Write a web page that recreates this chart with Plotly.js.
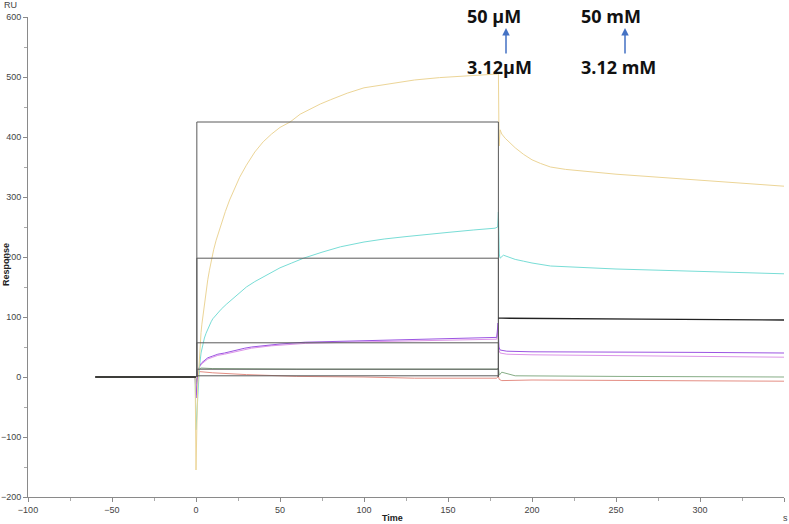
<!DOCTYPE html>
<html>
<head>
<meta charset="utf-8">
<script src="https://cdn.plot.ly/plotly-3.0.1.min.js"></script>
<style>html,body{margin:0;padding:0;background:#fff;}#chart{width:789px;height:524px;}</style>
</head>
<body>
<div id="chart"></div>
<script>
// ---- Data ----
const yellowT = [-60, -0.5, 0, 0.5, 1, 1.4, 1.9, 2.4, 3, 3.5, 4.4, 5.4, 6.2, 7, 8, 9.3, 10.5, 12, 13.5, 15, 17.5, 20, 23, 26, 30, 35, 40, 45, 50, 56, 62, 68, 74, 80, 90, 100, 115, 130, 145, 160, 170, 179.5, 180, 180.4, 181, 182, 184, 187, 190, 195, 200, 205, 211, 220, 230, 250, 275, 300, 325, 350];
const yellowV = [0, 0, -155, -60, -15, 0, 30, 57, 74, 88, 108, 128, 146, 162, 178, 198, 212, 228, 242, 255, 276, 295, 315, 333, 353, 375, 392, 405, 416, 425, 438, 447, 455, 462, 473, 482, 489, 495, 499, 502, 504, 505, 508, 385, 412, 405, 398, 390, 382, 371, 362, 356, 350, 346, 343, 338, 333, 328, 323, 318];

const cyanT = [-60, -0.5, 0, 0.5, 1, 1.5, 2, 3, 4.2, 5, 6, 7, 8, 9, 10, 12.5, 15, 18, 21, 25, 30, 35, 40, 45, 50, 57, 64, 75, 86, 100, 112, 125, 138, 150, 165, 178, 179.6, 180, 180.5, 181, 183, 186, 190, 195, 200, 211, 225, 250, 275, 300, 325, 350];
const cyanV = [0, 0, -88, -60, -30, -5, 15, 40, 57, 65, 73, 80, 86, 92, 97, 106, 113, 121, 128, 138, 150, 159, 167, 175, 182, 190, 198, 208, 217, 225, 230, 234, 238, 241, 245, 248, 250, 275, 205, 198, 203, 200, 196, 193, 190, 185, 183, 180, 178, 176, 174, 172];

const purpleT = [-60, -0.5, 0, 0.5, 1, 1.5, 2.4, 3.5, 5, 7, 10, 13, 17, 21, 25, 29, 33, 40, 50, 65, 90, 120, 150, 179, 179.8, 180.3, 181, 185, 200, 250, 300, 350];
const purpleV = [0, 0, -35, -10, 5, 13, 20, 24, 28, 32, 35, 38, 40, 43, 45, 48, 50, 52, 55, 58, 60, 62, 64, 66, 90, 50, 45, 43, 42, 42, 41, 40];

const pinkT = [-60, -0.5, 0, 0.5, 1, 1.5, 2.4, 3.5, 5, 7, 10, 13, 17, 25, 33, 45, 65, 90, 120, 150, 179, 179.8, 180.3, 181, 185, 200, 250, 300, 350];
const pinkV = [0, 0, -30, -8, 4, 11, 18, 22, 26, 30, 33, 36, 38, 43, 48, 52, 56, 58, 60, 62, 63, 80, 45, 40, 38, 37, 36, 35, 33];

const greenT = [-60, -0.5, 0, 0.5, 1.5, 3, 10, 60, 120, 179, 180, 180.5, 182, 190, 250, 300, 350];
const greenV = [0, 0, -12, -3, 12, 15, 14, 13, 13, 13, 15, 3, 8, 2, 1, 1, 0];

const redT = [-60, -0.5, 0, 0.5, 2, 10, 30, 60, 100, 130, 179, 180, 180.5, 182, 200, 250, 300, 350];
const redV = [0, 0, -8, -2, 9, 7, 4, 1, 0, -2, -2, 1, -4, -6, -5, -6, -6, -7];

// fitted steady-state boxes
const fitLevels = [425, 198, 57, 13, 2];
const fitStart = 0.5;
const fitEnd = 180;

// baseline and dissociation fit line
const baselineT = [-60, 0];
const baselineV = [0, 0];
const dissT = [180, 182, 265, 350];
const dissV = [98, 98, 96.5, 95];

// annotation labels
const labelsLeft = ["50 µM", "3.12µM"];
const labelsRight = ["50 mM", "3.12 mM"];

// ---- Traces ----
const traces = [];
function curve(t, v, color) {
  traces.push({x: t, y: v, type: 'scatter', mode: 'lines',
    line: {color: color, width: 1}, hoverinfo: 'skip', showlegend: false});
}
curve(redT, redV, '#E48E84');
curve(greenT, greenV, '#86AD86');
curve(pinkT, pinkV, '#DD95E8');
curve(purpleT, purpleV, '#9C55E2');
curve(cyanT, cyanV, '#78DDD6');
curve(yellowT, yellowV, '#ECD597');

fitLevels.forEach(function (L) {
  traces.push({x: [fitStart, fitStart, fitEnd, fitEnd], y: [0, L, L, 0],
    type: 'scatter', mode: 'lines', line: {color: '#5a5a5a', width: 1},
    hoverinfo: 'skip', showlegend: false});
});
traces.push({x: baselineT, y: baselineV, type: 'scatter', mode: 'lines',
  line: {color: '#111', width: 1.3}, hoverinfo: 'skip', showlegend: false});
traces.push({x: dissT, y: dissV, type: 'scatter', mode: 'lines',
  line: {color: '#222', width: 1.3}, hoverinfo: 'skip', showlegend: false});

// ---- Layout ----
const smallFont = {family: 'Liberation Sans, Arial, sans-serif', size: 9, color: '#444'};
const axisCommon = {
  showgrid: false, zeroline: false, showline: true, linecolor: '#8a8a8a', linewidth: 1,
  ticks: 'outside', ticklen: 4, tickcolor: '#8a8a8a', tickwidth: 1,
  tickfont: smallFont, automargin: false, fixedrange: true
};
const annFont = {family: 'Open Sans, sans-serif', size: 18, color: '#111'};
function paperX(px) { return (px - 28) / 756; }
function paperY(py) { return (497 - py) / 480; }
const annotations = [
  {xref: 'paper', yref: 'paper', x: paperX(465), y: paperY(16), text: '<b>' + labelsLeft[0] + '</b>', showarrow: false, xanchor: 'left', yanchor: 'middle', font: annFont},
  {xref: 'paper', yref: 'paper', x: paperX(465), y: paperY(67), text: '<b>' + labelsLeft[1] + '</b>', showarrow: false, xanchor: 'left', yanchor: 'middle', font: annFont},
  {xref: 'paper', yref: 'paper', x: paperX(579), y: paperY(16), text: '<b>' + labelsRight[0] + '</b>', showarrow: false, xanchor: 'left', yanchor: 'middle', font: annFont},
  {xref: 'paper', yref: 'paper', x: paperX(579), y: paperY(67), text: '<b>' + labelsRight[1] + '</b>', showarrow: false, xanchor: 'left', yanchor: 'middle', font: annFont},
  {xref: 'paper', yref: 'paper', x: paperX(506), y: paperY(28), text: '', showarrow: true, arrowhead: 2, arrowsize: 1, arrowwidth: 1.5, arrowcolor: '#4472C4', ax: 0, ay: 27},
  {xref: 'paper', yref: 'paper', x: paperX(625), y: paperY(28), text: '', showarrow: true, arrowhead: 2, arrowsize: 1, arrowwidth: 1.5, arrowcolor: '#4472C4', ax: 0, ay: 27},
  {xref: 'paper', yref: 'paper', x: paperX(10), y: paperY(5), text: 'RU', showarrow: false, xanchor: 'center', yanchor: 'middle', font: smallFont},
  {xref: 'paper', yref: 'paper', x: paperX(785), y: paperY(518), text: 's', showarrow: false, xanchor: 'center', yanchor: 'middle', font: smallFont},
  {xref: 'paper', yref: 'paper', x: paperX(392), y: paperY(518), text: '<b>Time</b>', showarrow: false, xanchor: 'center', yanchor: 'middle', font: {family: 'Liberation Sans, Arial, sans-serif', size: 9, color: '#222'}},
  {xref: 'paper', yref: 'paper', x: paperX(6), y: paperY(265), text: '<b>Response</b>', textangle: -90, showarrow: false, xanchor: 'center', yanchor: 'middle', font: {family: 'Liberation Sans, Arial, sans-serif', size: 9, color: '#222'}}
];

const layout = {
  width: 789, height: 524,
  margin: {l: 28, r: 5, t: 17, b: 27, pad: 0},
  paper_bgcolor: '#fff', plot_bgcolor: '#fff',
  showlegend: false,
  xaxis: Object.assign({}, axisCommon, {range: [-100, 350], dtick: 50, tick0: 0,
    minor: {dtick: 25, ticks: 'outside', ticklen: 3, tickcolor: '#aaa', showgrid: false}}),
  yaxis: Object.assign({}, axisCommon, {range: [-200, 600], dtick: 100, tick0: 0,
    minor: {dtick: 50, ticks: 'outside', ticklen: 3, tickcolor: '#aaa', showgrid: false}}),
  annotations: annotations
};

Plotly.newPlot('chart', traces, layout, {displayModeBar: false, staticPlot: true});
</script>
</body>
</html>
